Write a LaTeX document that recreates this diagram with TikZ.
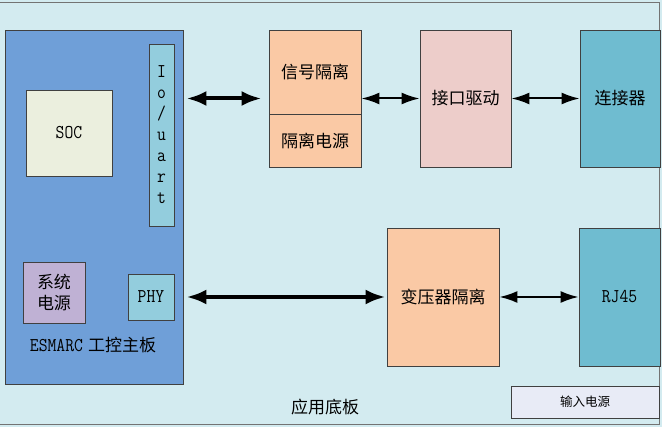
\documentclass[tikz,border=0pt]{standalone}
\usepackage{fontspec}
\newfontfamily\cjk{Noto Sans CJK SC}
\newfontfamily\latintt[FakeStretch=0.88]{Latin Modern Mono}
\usetikzlibrary{arrows.meta}

\definecolor{bgblue}{HTML}{D3EBF0}
\definecolor{boardblue}{HTML}{6F9FD8}
\definecolor{socgreen}{HTML}{EBEFDE}
\definecolor{portblue}{HTML}{93CDDD}
\definecolor{pwrlilac}{HTML}{BFB1D4}
\definecolor{isopeach}{HTML}{FAC9A5}
\definecolor{drvpink}{HTML}{EDCDCA}
\definecolor{connteal}{HTML}{6FBCD0}
\definecolor{inpwrgrey}{HTML}{E8EBF6}

\begin{document}
\begin{tikzpicture}[x=1pt,y=-1pt,
box/.style={draw=black!75,line width=0.8pt,inner sep=0pt,font=\cjk\fontsize{17}{21}\selectfont},
latin/.style={font=\latintt\fontsize{19.5}{21}\selectfont},
biglink/.style={{Latex[length=20pt,width=15pt]}-{Latex[length=20pt,width=15pt]},line width=4pt},
link/.style={{Latex[length=18pt,width=12pt]}-{Latex[length=18pt,width=12pt]},line width=2pt}]
\useasboundingbox (0,0) rectangle (662,427);
\fill[bgblue] (0,0) rectangle (662,427);
\draw[black!55,line width=1pt] (-2,3) rectangle (659.5,424.5);

% ESMARC board
\node[box,fill=boardblue,minimum width=178pt,minimum height=354pt] (board) at (94,207) {};
\node[box,fill=socgreen,minimum width=86pt,minimum height=86pt,latin] (soc) at (69,133) {SOC};
\node[box,fill=portblue,minimum width=25pt,minimum height=182pt,latin,align=center] (uart) at (161.5,135) {I\\o\\/\\u\\a\\r\\t};
\node[box,fill=pwrlilac,minimum width=62pt,minimum height=61pt,align=center] (syspwr) at (54,292.5) {系统\\电源};
\node[box,fill=portblue,minimum width=46pt,minimum height=46pt,latin] (phy) at (151,297) {PHY};
\node[font=\fontsize{17}{21}\selectfont] (boardname) at (93,345) {{\latintt\fontsize{19.5}{21}\selectfont ESMARC} {\cjk 工控主板}};

% carrier board
\node[box,fill=isopeach,minimum width=92pt,minimum height=84pt] (sig) at (315,72) {信号隔离};
\node[box,fill=isopeach,minimum width=92pt,minimum height=53pt] (isopwr) at (315,140.5) {隔离电源};
\node[box,fill=drvpink,minimum width=91pt,minimum height=137pt] (drv) at (465.5,98.5) {接口驱动};
\node[box,fill=connteal,minimum width=80pt,minimum height=137pt] (conn) at (620,98.5) {连接器};
\node[box,fill=isopeach,minimum width=112pt,minimum height=138pt] (xfmr) at (443,297) {变压器隔离};
\node[box,fill=connteal,minimum width=81pt,minimum height=138pt,latin] (rj) at (619.5,297) {RJ45};
\node[box,fill=inpwrgrey,minimum width=148pt,minimum height=32pt,font=\cjk\fontsize{12.5}{15}\selectfont] (inpwr) at (585,402) {输入电源};
\node[font=\cjk\fontsize{17}{21}\selectfont] (basename) at (325,407) {应用底板};

% links
\draw[biglink,shorten <=3pt,shorten >=7pt] (board.east |- drv) -- (sig.west |- drv);
\draw[link] (sig.east |- drv) -- (drv.west);
\draw[link] (drv.east) -- (conn.west);
\draw[biglink,shorten <=3pt,shorten >=1pt] (board.east |- xfmr) -- (xfmr.west);
\draw[link] (xfmr.east) -- (rj.west);
\end{tikzpicture}
\end{document}
